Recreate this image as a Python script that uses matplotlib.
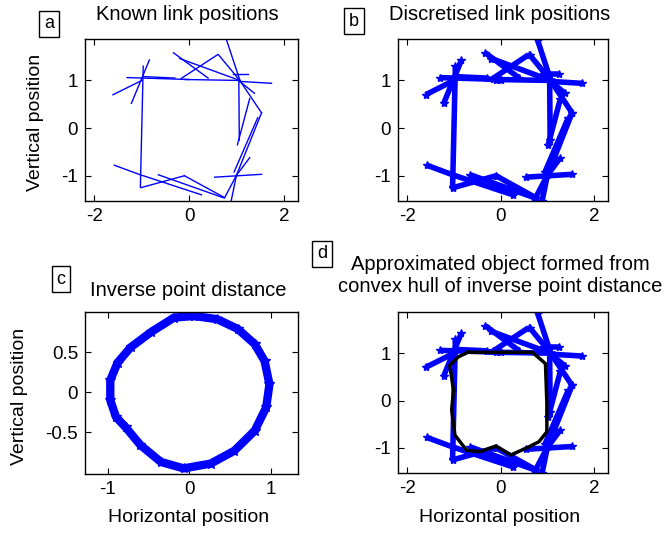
import numpy as np
import matplotlib.pyplot as plt

plt.rcParams['font.family'] = ['Liberation Sans', 'DejaVu Sans']

# -----------------------------
# Link segments (start x, start y, end x, end y)
# -----------------------------
link_x0 = [-1.31, -0.10, -1.61, -1.22, -0.97, -0.17, -0.33, -0.20, 0.79, 0.62,
           0.92, 1.07, 1.07, 1.07, 1.53, 1.45, 1.05, 0.54, 1.00, 1.00,
           1.00, -1.58, -1.03, -1.02, -0.10, -0.65, -0.95, 1.28]
link_y0 = [1.06, 1.02, 0.70, 0.52, 1.30, 1.04, 1.58, 1.46, 1.85, 1.54,
           1.13, 0.98, 0.98, 1.00, 0.32, 0.22, 1.00, -1.03, -0.99, -0.99,
           -0.99, -0.78, -0.98, -1.25, -1.00, -0.98, 1.08, 0.62]
link_x1 = [0.00, 1.07, -1.00, -0.84, -1.03, 0.60, 0.40, 1.07, 1.07, 1.07,
           1.24, 1.74, 1.38, 1.53, 1.00, 0.95, 1.06, 1.53, 1.28, 0.75,
           0.89, -1.03, 0.26, -0.10, 0.75, 0.72, -0.30, 1.02]
link_y1 = [1.02, 1.00, 1.00, 1.43, -1.23, 1.54, 1.05, 1.00, 1.01, 1.00,
           1.13, 0.94, 0.73, 0.32, -0.99, -0.92, -0.25, -0.97, -0.62, -1.46,
           -1.52, -0.98, -1.40, -1.00, -1.46, -1.46, 1.05, -0.35]

# -----------------------------
# Inverse point distance ring
# -----------------------------
ring_x = [0.06, -0.19, -0.47, -0.72, -0.88, -0.97, -0.97, -0.90, -0.78, -0.60,
          -0.35, -0.07, 0.26, 0.55, 0.80, 0.94, 0.98, 0.92, 0.80, 0.59, 0.34]
ring_y = [0.95, 0.93, 0.75, 0.56, 0.37, 0.15, -0.10, -0.31, -0.44, -0.66,
          -0.87, -0.95, -0.89, -0.73, -0.48, -0.19, 0.10, 0.39, 0.60, 0.79, 0.91]

# -----------------------------
# Approximated object outline
# -----------------------------
hull_x = [-0.70, 0.68, 0.96, 0.99, 0.99, 0.82, 0.60, 0.22, -0.10, -0.45,
          -0.73, -0.98, -1.05, -1.01, -1.09, -0.91]
hull_y = [1.02, 1.02, 0.78, -0.06, -0.66, -0.87, -0.98, -1.15, -0.96, -1.08,
          -1.05, -0.73, -0.20, 0.22, 0.74, 0.92]

blue = '#0000ff'
tick_fs = 13.5
lab_fs = 14
tit_fs = 14.5

fig = plt.figure(figsize=(6.65, 5.33), dpi=100)
W, H = 665.0, 533.0


def make_ax(l, t, r, b):
    ax = fig.add_axes([l / W, 1 - b / H, (r - l) / W, (b - t) / H])
    ax.tick_params(direction='in', top=True, right=True, length=4,
                   labelsize=tick_fs, width=0.8, pad=5)
    for s in ax.spines.values():
        s.set_linewidth(1.0)
    return ax


def draw_links(ax, thick):
    for i in range(len(link_x0)):
        xs = [link_x0[i], link_x1[i]]
        ys = [link_y0[i], link_y1[i]]
        if thick:
            ax.plot(xs, ys, color=blue, lw=4.0, marker='*', ms=6,
                    solid_capstyle='butt')
        else:
            ax.plot(xs, ys, color=blue, lw=1.0)


def square_lims(ax):
    ax.set_xlim(-2.2, 2.3)
    ax.set_ylim(-1.53, 1.87)
    ax.set_xticks([-2, 0, 2])
    ax.set_yticks([-1, 0, 1])
    ax.set_xticklabels(['-2', '0', '2'])
    ax.set_yticklabels(['-1', '0', '1'])


# a
ax_a = make_ax(85, 39, 298, 201)
draw_links(ax_a, False)
square_lims(ax_a)

# b
ax_b = make_ax(398, 39, 608, 201)
draw_links(ax_b, True)
square_lims(ax_b)

# c
ax_c = make_ax(85, 312, 298, 474)
ax_c.plot(ring_x + ring_x[:1], ring_y + ring_y[:1], color=blue, lw=6,
          marker='*', ms=7)
ax_c.set_xlim(-1.28, 1.33)
ax_c.set_ylim(-1.02, 1.0)
ax_c.set_xticks([-1, 0, 1])
ax_c.set_yticks([-0.5, 0, 0.5])
ax_c.set_xticklabels(['-1', '0', '1'])
ax_c.set_yticklabels(['-0.5', '0', '0.5'])

# d
ax_d = make_ax(398, 312, 608, 473)
draw_links(ax_d, True)
ax_d.plot(hull_x + hull_x[:1], hull_y + hull_y[:1], color='black', lw=2.5)
square_lims(ax_d)

# titles
fig.text(187.5 / W, 1 - 15 / H, 'Known link positions', ha='center', va='center', fontsize=tit_fs)
fig.text(500 / W, 1 - 15 / H, 'Discretised link positions', ha='center', va='center', fontsize=tit_fs)
fig.text(188 / W, 1 - 290 / H, 'Inverse point distance', ha='center', va='center', fontsize=tit_fs)
fig.text(500 / W, 1 - 276 / H, 'Approximated object formed from\nconvex hull of inverse point distance',
         ha='center', va='center', fontsize=tit_fs, linespacing=1.2)

# axis labels
fig.text(189 / W, 1 - 518 / H, 'Horizontal position', ha='center', va='center', fontsize=lab_fs)
fig.text(500 / W, 1 - 517 / H, 'Horizontal position', ha='center', va='center', fontsize=lab_fs)
fig.text(36 / W, 1 - 122 / H, 'Vertical position', ha='center', va='center', fontsize=lab_fs, rotation=90)
fig.text(20 / W, 1 - 396 / H, 'Vertical position', ha='center', va='center', fontsize=lab_fs, rotation=90)

# panel letters
box = dict(boxstyle='square,pad=0.25', fc='white', ec='black', lw=1.0)
for lbl, px, py in [('a', 49, 24), ('b', 354, 21), ('c', 61, 279), ('d', 322, 254)]:
    fig.text(px / W, 1 - py / H, lbl, ha='center', va='center', fontsize=13, bbox=box)

fig.savefig('out.png', dpi=100)
